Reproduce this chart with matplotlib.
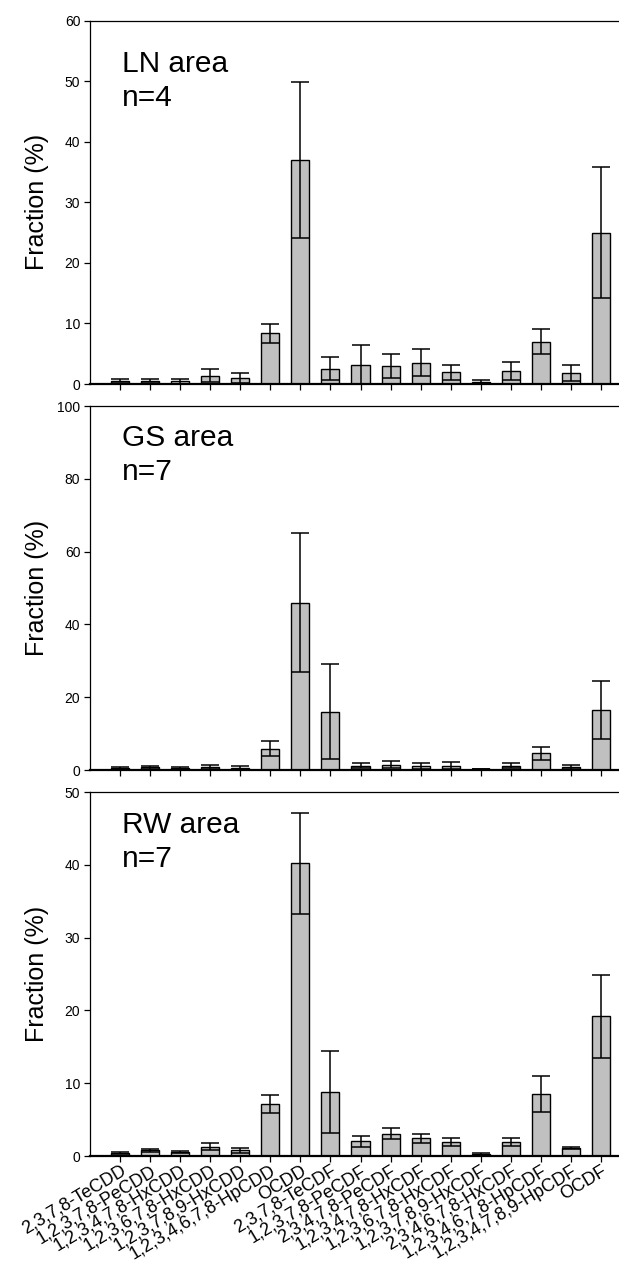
import matplotlib
matplotlib.use("Agg")
import matplotlib.pyplot as plt
import numpy as np

plt.rcParams['font.family'] = ['Liberation Sans', 'DejaVu Sans']

categories = ["2,3,7,8-TeCDD", "1,2,3,7,8-PeCDD", "1,2,3,4,7,8-HxCDD", "1,2,3,6,7,8-HxCDD",
              "1,2,3,7,8,9-HxCDD", "1,2,3,4,6,7,8-HpCDD", "OCDD", "2,3,7,8-TeCDF",
              "1,2,3,7,8-PeCDF", "2,3,4,7,8-PeCDF", "1,2,3,4,7,8-HxCDF", "1,2,3,6,7,8-HxCDF",
              "1,2,3,7,8,9-HxCDF", "2,3,4,6,7,8-HxCDF", "1,2,3,4,6,7,8-HpCDF",
              "1,2,3,4,7,8,9-HpCDF", "OCDF"]

ln_mean = [0.5, 0.5, 0.45, 1.38, 0.99, 8.37, 37.0, 2.48, 3.09, 2.98, 3.53, 1.93, 0.33, 2.15, 7.0, 1.82, 25.0]
ln_sd = [0.25, 0.25, 0.45, 1.05, 0.77, 1.6, 12.9, 1.9, 3.36, 2.0, 2.26, 1.2, 0.33, 1.5, 2.1, 1.3, 10.8]

gs_mean = [0.55, 0.7, 0.5, 0.9, 0.6, 5.78, 46.0, 16.05, 1.2, 1.47, 1.2, 1.2, 0.25, 1.2, 4.6, 0.83, 16.4]
gs_sd = [0.2, 0.3, 0.2, 0.5, 0.5, 2.05, 19.2, 13.1, 0.75, 1.0, 0.8, 0.9, 0.1, 0.75, 1.8, 0.55, 8.0]

rw_mean = [0.41, 0.78, 0.6, 1.24, 0.78, 7.1, 40.2, 8.76, 2.02, 3.03, 2.43, 1.93, 0.3, 1.97, 8.49, 1.1, 19.2]
rw_sd = [0.2, 0.25, 0.15, 0.48, 0.37, 1.24, 6.9, 5.6, 0.77, 0.76, 0.62, 0.5, 0.12, 0.53, 2.45, 0.18, 5.7]

panels = [
    ("LN area", "n=4", ln_mean, ln_sd, 60, 10),
    ("GS area", "n=7", gs_mean, gs_sd, 100, 20),
    ("RW area", "n=7", rw_mean, rw_sd, 50, 10),
]

W, H = 619, 1263
fig = plt.figure(figsize=(W / 100, H / 100), dpi=100)

# axes pixel extents (top, bottom)
extents = [(20.7, 384), (406, 770), (792, 1156)]
# label baselines (first line) in pixels from top
text_base = [72, 446, 833]

x = np.arange(len(categories))
left_px = 90
for i, ((title, nlab, mean, sd, ymax, ystep), (t, b)) in enumerate(zip(panels, extents)):
    ax = fig.add_axes([left_px / W, (H - b) / H, (W - left_px) / W, (b - t) / H])
    ax.bar(x, mean, width=0.6, color='#c0c0c0', edgecolor='black', linewidth=1.0, zorder=2)
    ax.errorbar(x, mean, yerr=sd, fmt='none', ecolor='black', elinewidth=1.1,
                capsize=6.2, capthick=1.1, zorder=3)
    ax.set_xlim(-1, 16.6)
    ax.set_ylim(0, ymax)
    ax.set_yticks(np.arange(0, ymax + 1, ystep))
    ax.set_xticks(x)
    ax.spines['right'].set_visible(False)
    ax.spines['left'].set_linewidth(0.9)
    ax.spines['top'].set_linewidth(0.9)
    ax.spines['bottom'].set_linewidth(1.6)
    ax.tick_params(axis='y', direction='out', length=4, width=0.9, labelsize=10, pad=3)
    ax.tick_params(axis='x', direction='out', length=4, width=0.9, pad=0.5)
    if i < 2:
        ax.set_xticklabels([])
    else:
        ax.set_xticklabels(categories, rotation=31, ha='right', va='top',
                           rotation_mode='anchor', fontsize=13)
    ax.set_ylabel("Fraction (%)", fontsize=18)
    ax.yaxis.set_label_coords(-0.078, 0.5)
    h = b - t
    y1 = 1 - (text_base[i] - t) / h
    y2 = 1 - (text_base[i] + 34 - t) / h
    ax.text(0.06, y1, title, transform=ax.transAxes, fontsize=21.5, va='baseline', ha='left')
    ax.text(0.06, y2, nlab, transform=ax.transAxes, fontsize=21.5, va='baseline', ha='left')

fig.savefig("out.png", dpi=100)
